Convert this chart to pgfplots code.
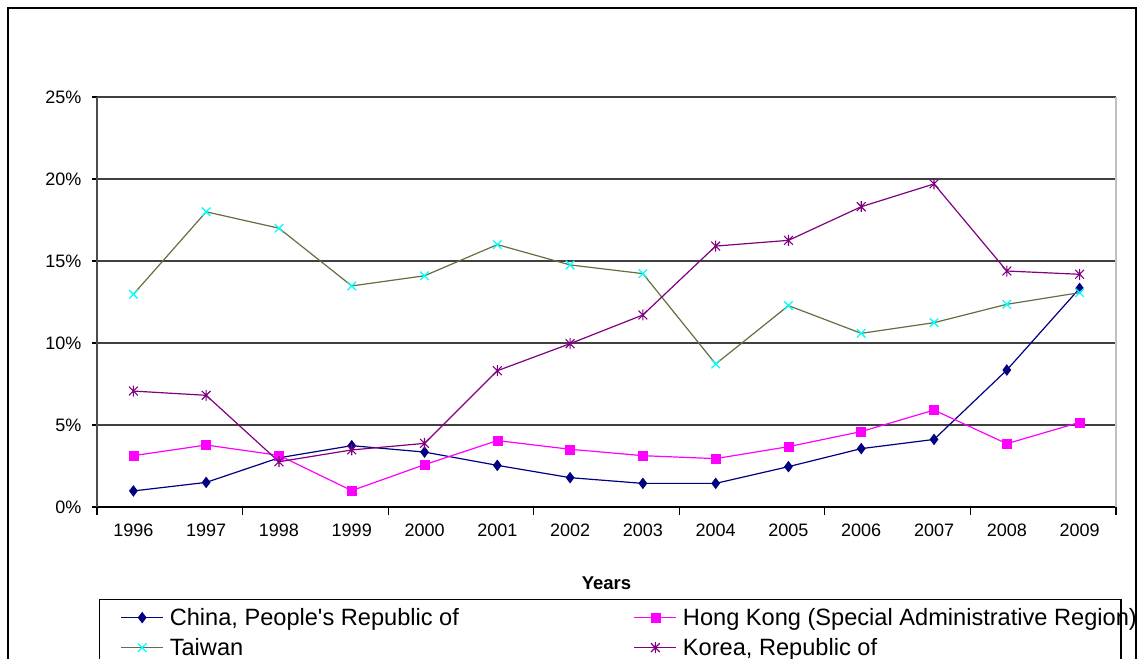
\documentclass[border=0pt]{standalone}
\usepackage{fontspec}
\setmainfont{Liberation Sans}
\usepackage{pgfplots}
\usepackage{pgfplotstable}
\pgfplotsset{compat=1.18}
\definecolor{chinac}{RGB}{0,0,128}
\definecolor{hkc}{RGB}{255,0,255}
\definecolor{twline}{RGB}{100,110,65}
\definecolor{twmark}{RGB}{0,255,255}
\definecolor{korc}{RGB}{128,0,128}
\pgfdeclareplotmark{xstar}{%
 \pgfpathmoveto{\pgfqpoint{0pt}{\pgfplotmarksize}}\pgfpathlineto{\pgfqpoint{0pt}{-\pgfplotmarksize}}%
 \pgfpathmoveto{\pgfqpoint{-.8\pgfplotmarksize}{.8\pgfplotmarksize}}\pgfpathlineto{\pgfqpoint{.8\pgfplotmarksize}{-.8\pgfplotmarksize}}%
 \pgfpathmoveto{\pgfqpoint{-.8\pgfplotmarksize}{-.8\pgfplotmarksize}}\pgfpathlineto{\pgfqpoint{.8\pgfplotmarksize}{.8\pgfplotmarksize}}%
 \pgfusepathqstroke}
\pgfplotstableread{
idx china hk taiwan korea
0 0.98 3.13 12.97 7.07
1 1.50 3.78 18.00 6.81
2 3.00 3.15 17.00 2.76
3 3.74 1.00 13.48 3.48
4 3.35 2.58 14.10 3.88
5 2.54 4.05 16.00 8.31
6 1.79 3.52 14.76 9.96
7 1.44 3.13 14.23 11.71
8 1.44 2.95 8.72 15.91
9 2.46 3.68 12.28 16.26
10 3.56 4.60 10.59 18.31
11 4.12 5.91 11.24 19.70
12 8.35 3.86 12.36 14.39
13 13.33 5.16 13.07 14.19
}\data
\begin{document}
\begin{tikzpicture}
\draw[line width=1.5pt] (8pt,-8pt) rectangle (1136pt,-720pt);
\begin{axis}[
  at={(97pt,-507pt)}, anchor=south west,
  scale only axis, width=1019pt, height=410pt,
  xmin=-0.5, xmax=13.5, ymin=0, ymax=25,
  xtick={0,...,13},
  xticklabels={1996,1997,1998,1999,2000,2001,2002,2003,2004,2005,2006,2007,2008,2009},
  major x tick style={draw=none},
  minor xtick={-0.5,1.5,3.5,5.5,7.5,9.5,11.5,13.5},
  minor tick length=8pt,
  ytick={0,5,10,15,20,25},
  yticklabel={\pgfmathprintnumber{\tick}\%},
  /pgf/number format/assume math mode=true,
  ymajorgrids,
  major grid style={line width=1.2pt, color=black!75},
  axis x line*=bottom, axis y line*=left,
  x axis line style={line width=1.3pt, black},
  y axis line style={line width=1.3pt, black!70},
  tick style={line width=1.2pt, black},
  tick align=outside, major tick length=5pt,
  tick label style={font=\fontsize{18}{21}\selectfont},
  xticklabel style={yshift=-8pt},
  yticklabel style={xshift=-7pt},
  xlabel={Years},
  xlabel style={font=\bfseries\fontsize{18.5}{21}\selectfont, at={(axis description cs:0.5,-0.1854)}, anchor=center},
  clip=false,
  legend columns=2,
  legend cell align=left,
  legend image code/.code={\draw[mark repeat=2,mark phase=2,#1] plot coordinates {(0pt,0pt) (21pt,0pt) (42pt,0pt)};},
  legend style={at={(axis description cs:0.00196,-0.2244)}, anchor=north west, draw=black, line width=1.2pt,
    inner xsep=21pt, inner ysep=3pt, font=\fontsize{23.6}{28}\selectfont,
    nodes={inner xsep=6pt, inner ysep=2.5pt, text height=20pt, text depth=5pt},
    column sep=0pt, row sep=0pt},
]
\addplot[color=chinac, line width=1.2pt, mark=diamond*, mark size=5pt, mark options={solid, fill=chinac, line width=1pt}] table[x=idx,y=china]{\data};
\addlegendentry{\makebox[458pt][l]{China, People\textquotesingle s Republic of}}
\addplot[color=hkc, line width=1.2pt, mark=square*, mark size=4.5pt, mark options={solid, fill=hkc, line width=0.5pt}] table[x=idx,y=hk]{\data};
\addlegendentry{\makebox[411pt][l]{Hong Kong (Special Administrative Region)}}
\addplot[color=twline, line width=1.2pt, mark=x, mark size=6pt, mark options={solid, draw=twmark, line width=1.3pt}] table[x=idx,y=taiwan]{\data};
\addlegendentry{\makebox[458pt][l]{Taiwan}}
\addplot[color=korc, line width=1.2pt, mark=xstar, mark size=5.5pt, mark options={solid, line width=1.1pt}] table[x=idx,y=korea]{\data};
\addlegendentry{\makebox[411pt][l]{Korea, Republic of}}
\draw[color=black!25, line width=1.5pt] (rel axis cs:1,0) -- (rel axis cs:1,1);
\end{axis}
\pgfresetboundingbox
\useasboundingbox (0pt,0pt) rectangle (1144pt,-659pt);
\end{tikzpicture}
\end{document}
